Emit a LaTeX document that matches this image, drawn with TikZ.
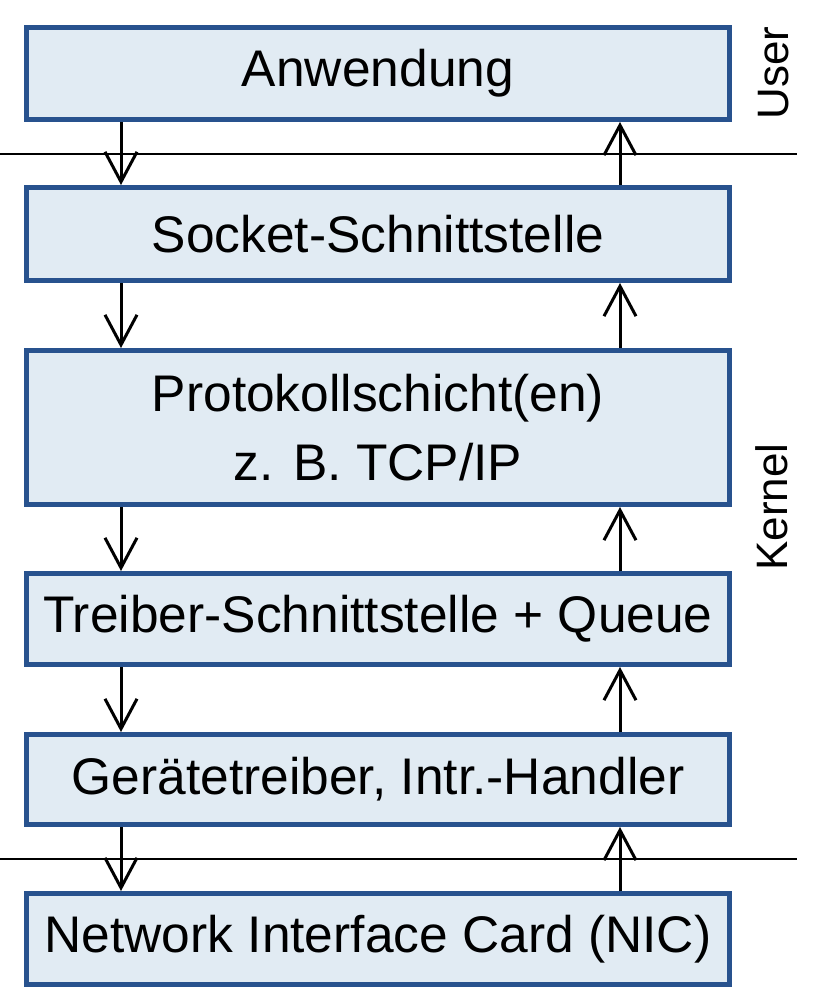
\documentclass[tikz,border=0pt]{standalone}
\usepackage{fontspec}
\setmainfont{Liberation Sans}
\usetikzlibrary{arrows.meta}
\definecolor{layerblue}{RGB}{40,82,142}
\definecolor{layerfill}{RGB}{225,235,243}
\tikzset{
  layer/.style={draw=layerblue, fill=layerfill, line width=5pt, minimum width=703pt,
    inner sep=0pt, align=center, font=\fontsize{51.5}{69}\selectfont},
  flow/.style={line width=3pt, -{Straight Barb[length=30pt,width=32pt]}},
  sepline/.style={line width=2pt},
  side/.style={rotate=90, font=\fontsize{44}{50}\selectfont}
}
\begin{document}
\begin{tikzpicture}[x=1pt,y=-1pt]
  \useasboundingbox (0,0) rectangle (822,1002);

  \node[layer, minimum height=92pt]  (App)  at (378,73.5) {Anwendung};
  \node[layer, minimum height=93pt]  (Sock) at (378,234)  {Socket-Schnittstelle};
  \node[layer, minimum height=154pt] (Prot) at (378,427.5) {Protokollschicht(en)\\z. B. TCP/IP};
  \node[layer, minimum height=91pt]  (Drv)  at (378,619)  {Treiber-Schnittstelle + Queue};
  \node[layer, minimum height=90pt]  (Dev)  at (378,779.5) {Gerätetreiber, Intr.-Handler};
  \node[layer, minimum height=91pt]  (NIC)  at (378,939)  {Network Interface Card (NIC)};

  \node[side] (User)   at (774,73)  {User};
  \node[side] (Kernel) at (772,507) {Kernel};

  % user/kernel and kernel/hardware borders
  \coordinate (ukL) at (0,154);   \coordinate (ukR) at (797,154);
  \coordinate (khL) at (0,859);   \coordinate (khR) at (797,859);
  \draw[sepline] (ukL) -- (ukR);
  \draw[sepline] (khL) -- (khR);

  \coordinate (down) at (121,0);
  \coordinate (up)   at (620,0);
  \foreach \a/\b in {App/Sock, Sock/Prot, Prot/Drv, Drv/Dev, Dev/NIC} {
    \draw[flow] (\a.south -| down) -- (\b.north -| down);
    \draw[flow] (\b.north -| up) -- (\a.south -| up);
  }
\end{tikzpicture}
\end{document}
